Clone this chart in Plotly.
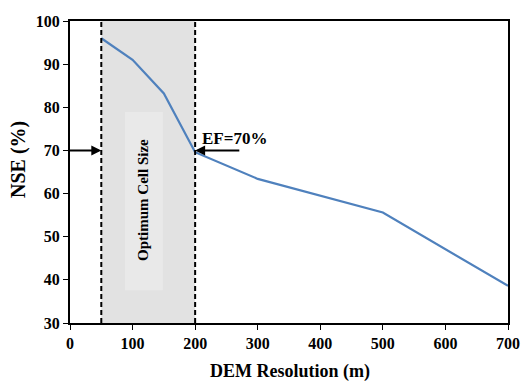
import plotly.graph_objects as go

resolution = [50, 100, 150, 200, 300, 500, 700]
nse = [96.0, 91.0, 83.2, 69.6, 63.4, 55.6, 38.6]
x_ticks = [0, 100, 200, 300, 400, 500, 600, 700]
y_ticks = [30, 40, 50, 60, 70, 80, 90, 100]
optimum_range = [50, 200]
ef_value = 70

FONT = "Liberation Serif"

W, H = 526, 383
l, r, t, b = 70, 18, 21, 60
pw, ph = W - l - r, H - t - b

fig = go.Figure()

fig.add_trace(go.Scatter(x=resolution, y=nse, mode="lines",
                         line=dict(color="#4F81BD", width=2.2), showlegend=False))

# shaded optimum region
fig.add_shape(type="rect", xref="x", yref="y", x0=optimum_range[0], x1=optimum_range[1],
              y0=30, y1=100, fillcolor="#e2e2e2", line=dict(width=0), layer="below")
# lighter text box
fig.add_shape(type="rect", xref="x", yref="y", x0=88, x1=148.5, y0=37.6, y1=78.9,
              fillcolor="#e9e9e9", line=dict(width=0), layer="below")
for xv in optimum_range:
    fig.add_shape(type="line", xref="x", yref="y", x0=xv, x1=xv, y0=30, y1=100,
                  line=dict(color="black", width=2, dash="5px,3px"))

fig.add_annotation(x=116.5, y=58.5, text="Optimum Cell Size", textangle=-90,
                   showarrow=False, font=dict(family=FONT, size=15, color="black", weight="bold"))

# arrows
fig.add_annotation(x=optimum_range[0], y=ef_value, ax=-3, ay=ef_value, xref="x", yref="y",
                   axref="x", ayref="y", text="", showarrow=True, arrowhead=2,
                   arrowsize=1, arrowwidth=2, arrowcolor="black")
fig.add_annotation(x=optimum_range[1], y=ef_value, ax=273, ay=ef_value, xref="x", yref="y",
                   axref="x", ayref="y", text="", showarrow=True, arrowhead=2,
                   arrowsize=1, arrowwidth=2, arrowcolor="black")
fig.add_annotation(x=207, y=72.8, text="EF=70%", showarrow=False, xanchor="left",
                   font=dict(family=FONT, size=17, color="black", weight="bold"))

# axis titles
fig.add_annotation(x=(290 - l) / pw, y=(H - b - 371) / ph, xref="paper", yref="paper",
                   xanchor="center", yanchor="middle", text="DEM Resolution (m)",
                   showarrow=False, font=dict(family=FONT, size=18, color="black", weight="bold"))
fig.add_annotation(x=(18 - l) / pw, y=(H - b - 160) / ph, xref="paper", yref="paper",
                   xanchor="center", yanchor="middle", text="NSE (%)", textangle=-90, showarrow=False,
                   font=dict(family=FONT, size=20, color="black", weight="bold"))

fig.update_layout(
    width=W, height=H,
    margin=dict(l=l, r=r, t=t, b=b),
    plot_bgcolor="white", paper_bgcolor="white",
    font=dict(family=FONT, color="black"),
    xaxis=dict(range=[0, 700], tickvals=x_ticks, showgrid=False, zeroline=False,
               showline=True, linecolor="black", linewidth=2, mirror=True,
               ticks="outside", ticklen=5, tickcolor="black", tickwidth=1, automargin=False,
               tickfont=dict(family=FONT, size=16, color="black", weight="bold")),
    yaxis=dict(range=[30, 100], tickvals=y_ticks, showgrid=False, zeroline=False,
               showline=True, linecolor="black", linewidth=2, mirror=True,
               ticks="outside", ticklen=5, tickcolor="black", tickwidth=1, automargin=False,
               tickfont=dict(family=FONT, size=16, color="black", weight="bold")),
)

fig.write_html("out.html")
